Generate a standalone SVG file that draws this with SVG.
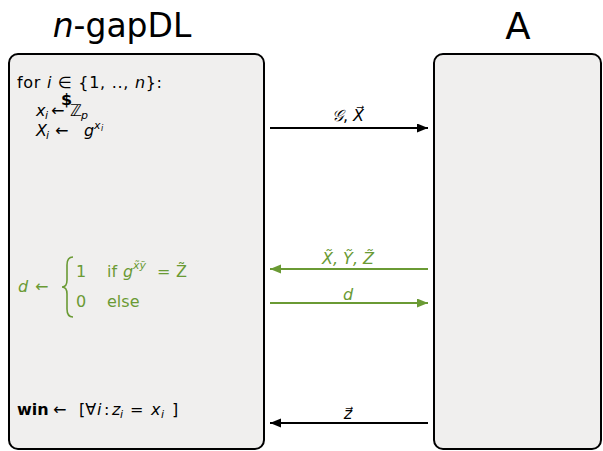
<svg xmlns="http://www.w3.org/2000/svg" width="603" height="451" viewBox="0 0 603 451">
<defs>
<style>
.box{fill:#f0efee;stroke:#000;stroke-width:2}
.t{font-family:"DejaVu Sans","Liberation Sans",sans-serif;font-size:16px;fill:#000}
.m{font-style:italic}
.s{font-size:11px}
.g{fill:#6a9a34}
.title{font-family:"DejaVu Sans","Liberation Sans",sans-serif;fill:#000}
.conn{stroke-width:2;fill:none}
</style>
<marker id="ab" markerUnits="userSpaceOnUse" markerWidth="12" markerHeight="10" refX="11" refY="4.5" orient="auto">
<path d="M0,0 L11,4.5 L0,9 z" fill="#000"/>
</marker>
<marker id="ag" markerUnits="userSpaceOnUse" markerWidth="12" markerHeight="10" refX="11" refY="4.5" orient="auto">
<path d="M0,0 L11,4.5 L0,9 z" fill="#6a9a34"/>
</marker>
</defs>
<rect width="603" height="451" fill="#fff"/>

<g id="node-gapDL">
<text class="title" x="122" y="37" font-size="33" text-anchor="middle"><tspan font-style="italic">n</tspan>-gapDL</text>
<rect class="box" x="9" y="54" width="255" height="395" rx="9"/>
<text class="t" x="17" y="88" textLength="145" lengthAdjust="spacing">for <tspan class="m">i</tspan> ∈ {1, .., <tspan class="m">n</tspan>}:</text>
<text class="t"><tspan class="m" x="36" y="116">x</tspan><tspan class="m s" x="45" y="119">i</tspan><tspan x="51" y="116">←</tspan><tspan x="70" y="116">ℤ</tspan><tspan class="m s" x="81" y="119">p</tspan></text>
<text class="t" x="61" y="105" font-size="7.5" font-weight="bold">$</text>
<text class="t"><tspan class="m" x="36" y="136">X</tspan><tspan class="m s" x="46" y="139">i</tspan><tspan x="55" y="136">←</tspan><tspan class="m" x="84" y="136">g</tspan><tspan class="m s" x="94" y="129">x</tspan><tspan class="m" x="101" y="131" font-size="8">i</tspan></text>
<g class="g">
<text class="t g"><tspan class="m" x="18" y="292">d</tspan><tspan x="35" y="292">←</tspan></text>
<path d="M73,257 Q67,257 67,265 L67,280 Q67,287 62,287 Q67,287 67,294 L67,309 Q67,317 73,317" stroke="#6a9a34" stroke-width="1.6" fill="none"/>
<text class="t g"><tspan x="76" y="277">1</tspan><tspan x="107" y="277">if</tspan><tspan class="m" x="123" y="277">g</tspan><tspan class="m s" x="133" y="269">x̃ỹ</tspan><tspan x="157" y="277">=</tspan><tspan x="176" y="277">Z̃</tspan></text>
<text class="t g"><tspan x="76" y="307">0</tspan><tspan x="107" y="307">else</tspan></text>
</g>
<text class="t"><tspan x="17" y="415" font-weight="bold">win</tspan><tspan x="53" y="415">←</tspan><tspan x="79" y="415">[∀</tspan><tspan class="m" x="97" y="415">i</tspan><tspan x="104" y="415">:</tspan><tspan class="m" x="112" y="415">z</tspan><tspan class="m s" x="120" y="418">i</tspan><tspan x="130" y="415">=</tspan><tspan class="m" x="151" y="415">x</tspan><tspan class="m s" x="161" y="418">i</tspan><tspan x="172" y="415">]</tspan></text>
</g>

<g id="node-A">
<text class="title" x="518" y="39" font-size="37" text-anchor="middle">A</text>
<rect class="box" x="434" y="54" width="167" height="395" rx="9"/>
</g>

<g id="connectors">
<line class="conn" x1="270" y1="128" x2="428" y2="128" stroke="#000" marker-end="url(#ab)"/>
<text class="t" x="348" y="121" text-anchor="middle"><tspan class="m">𝒢</tspan>, <tspan class="m">X⃗</tspan></text>
<line class="conn" x1="428" y1="269" x2="270" y2="269" stroke="#6a9a34" marker-end="url(#ag)"/>
<text class="t g m" x="348" y="264" text-anchor="middle">X̃, Ỹ, Z̃</text>
<line class="conn" x1="270" y1="303" x2="428" y2="303" stroke="#6a9a34" marker-end="url(#ag)"/>
<text class="t g m" x="348" y="300" text-anchor="middle">d</text>
<line class="conn" x1="428" y1="423" x2="270" y2="423" stroke="#000" marker-end="url(#ab)"/>
<text class="t m" x="348" y="419" text-anchor="middle">z⃗</text>
</g>
</svg>
